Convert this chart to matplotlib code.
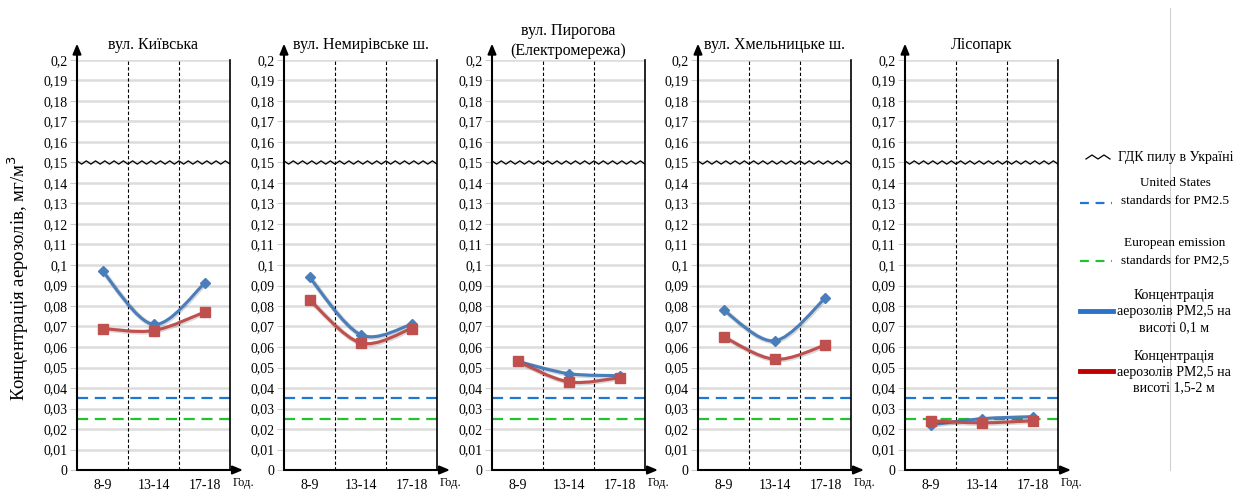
import numpy as np
import matplotlib.pyplot as plt
from matplotlib.path import Path
from matplotlib.patches import PathPatch
from matplotlib.lines import Line2D
import matplotlib.patheffects as pe

plt.rcParams['font.family'] = ['Liberation Serif', 'DejaVu Serif']

# Measurement sites and time slots
sites = ['вул. Київська', 'вул. Немирівське ш.', 'вул. Пирогова\n(Електромережа)',
         'вул. Хмельницьке ш.', 'Лісопарк']
hours = ['8-9', '13-14', '17-18']

# PM2.5 concentration, mg/m3, at 0.1 m and at 1.5-2 m height
low_height = [
    [0.097, 0.071, 0.091],
    [0.094, 0.066, 0.071],
    [0.053, 0.047, 0.046],
    [0.078, 0.063, 0.084],
    [0.022, 0.025, 0.026],
]
high_height = [
    [0.069, 0.068, 0.077],
    [0.083, 0.062, 0.069],
    [0.053, 0.043, 0.045],
    [0.065, 0.054, 0.061],
    [0.024, 0.023, 0.024],
]

# Reference limits
ukraine_limit = 0.15
us_standard = 0.035
eu_standard = 0.025

yticks = np.round(np.arange(0, 0.201, 0.01), 2)

W, H = 1236, 490
fig = plt.figure(figsize=(W / 100, H / 100), dpi=100)

panel_left = [77, 284, 492, 698, 905]
panel_w = 153
top_px, bot_px = 60, 470


def smooth_path(xs, ys):
    # Bezier segments through the points (Catmull-Rom style control points)
    pts = np.column_stack([xs, ys])
    ext = np.vstack([pts[0], pts, pts[-1]])
    verts = [pts[0]]
    codes = [Path.MOVETO]
    for i in range(len(pts) - 1):
        p0, p1, p2, p3 = ext[i], ext[i + 1], ext[i + 2], ext[i + 3]
        c1 = p1 + (p2 - p0) / 6
        c2 = p2 - (p3 - p1) / 6
        verts += [c1, c2, p2]
        codes += [Path.CURVE4] * 3
    return Path(verts, codes)


def fmt(v):
    return ('%g' % v).replace('.', ',')


blue_line = '#4a7ebb'
red_line = '#c0504d'
shadow = [pe.SimpleLineShadow(offset=(0.5, -0.5), alpha=0.15, linewidth=3.5), pe.Normal()]

for k, name in enumerate(sites):
    ax = fig.add_axes([panel_left[k] / W, 1 - bot_px / H, panel_w / W, (bot_px - top_px) / H])
    x = np.arange(len(hours)) + 0.5
    ax.set_xlim(0, len(hours))
    ax.set_ylim(0, 0.2)

    for v in yticks[1:]:
        ax.axhline(v, color='#dcdcdc', lw=1.8, zorder=0)
    for b in range(1, len(hours)):
        ax.axvline(b, color='black', lw=0.8, ls=(0, (3, 2)), zorder=1)

    # zigzag Ukrainian limit
    zx = np.linspace(0, len(hours), 34)
    zy = ukraine_limit + np.where(np.arange(34) % 2 == 0, 0.0008, -0.0008)
    ax.plot(zx, zy, color='black', lw=0.9, zorder=2)

    ax.axhline(us_standard, color='#1f77d0', lw=1.6, ls=(0, (5, 3)), zorder=2)
    ax.axhline(eu_standard, color='#22c32e', lw=1.6, ls=(0, (5, 3)), zorder=2)

    for vals, col, mk, ms in [(low_height[k], blue_line, 'D', 5),
                              (high_height[k], red_line, 's', 7)]:
        patch = PathPatch(smooth_path(x, vals), fill=False, edgecolor=col, lw=2.2,
                          zorder=3, path_effects=shadow)
        ax.add_patch(patch)
        ax.plot(x, vals, ls='none', marker=mk, ms=ms, color=col,
                markeredgecolor=col, zorder=4)

    ax.set_yticks(yticks)
    ax.set_yticklabels([fmt(v) for v in yticks], fontsize=10)
    ax.set_xticks(x)
    ax.set_xticklabels(hours, fontsize=10)
    ax.tick_params(axis='y', length=5, color='#cccccc', pad=2)
    ax.tick_params(axis='x', length=0, pad=6.5)

    for s in ['top', 'left', 'bottom']:
        ax.spines[s].set_visible(False)
    ax.spines['right'].set_color('black')
    ax.spines['right'].set_linewidth(1.2)

    ax.annotate('', xy=(0, 1.04), xytext=(0, 0), xycoords='axes fraction',
                arrowprops=dict(arrowstyle='-|>,head_length=0.6,head_width=0.25',
                                color='black', lw=1.5, shrinkA=0, shrinkB=0))
    ax.annotate('', xy=(1.085, 0), xytext=(0, 0), xycoords='axes fraction',
                arrowprops=dict(arrowstyle='-|>,head_length=0.6,head_width=0.25',
                                color='black', lw=1.5, shrinkA=0, shrinkB=0))
    ax.text(1.015, -0.018, 'Год.', transform=ax.transAxes, fontsize=9,
            ha='left', va='top')

    if '\n' in name:
        ax.text(0.5, 1.003, name, transform=ax.transAxes, fontsize=11.5,
                ha='center', va='bottom', linespacing=1.35)
    else:
        ax.text(0.5, 1.018, name, transform=ax.transAxes, fontsize=11.5,
                ha='center', va='bottom')

fig.text(18 / W, 1 - 278 / H, 'Концентрація аерозолів, мг/м$^3$', rotation=90,
         ha='center', va='center', fontsize=13.5)

# thin grey separator
fig.add_artist(Line2D([1170 / W] * 2, [1 - 470 / H, 1 - 8 / H], color='#d0d0d0', lw=0.8))

# legend
def fx(p):
    return p / W


def fy(p):
    return 1 - p / H


zlx = np.linspace(1086, 1110, 5)
zly = 157 + np.array([2, -2, 2, -2, 2])
fig.add_artist(Line2D(fx(zlx), fy(zly), color='black', lw=0.9))
fig.text(fx(1118), fy(157), 'ГДК пилу в Україні', fontsize=10, ha='left', va='center')

fig.add_artist(Line2D([fx(1080), fx(1112)], [fy(203)] * 2, color='#1f77d0', lw=1.6,
                      ls=(0, (4, 3))))
fig.text(fx(1175), fy(192), 'United States\nstandards for PM2.5', fontsize=9.5,
         ha='center', va='center', linespacing=1.6)

fig.add_artist(Line2D([fx(1080), fx(1112)], [fy(261)] * 2, color='#22c32e', lw=1.6,
                      ls=(0, (4, 3))))
fig.text(fx(1175), fy(252), 'European emission\nstandards for PM2,5', fontsize=9.5,
         ha='center', va='center', linespacing=1.6)

fig.add_artist(Line2D([fx(1080), fx(1113)], [fy(311)] * 2, color='#2c72c7', lw=3.5))
fig.text(fx(1174), fy(312), 'Концентрація\nаерозолів PM2,5 на\nвисоті 0,1 м', fontsize=10,
         ha='center', va='center', linespacing=1.3)

fig.add_artist(Line2D([fx(1080), fx(1113)], [fy(371)] * 2, color='#c00000', lw=3.5))
fig.text(fx(1174), fy(372), 'Концентрація\nаерозолів PM2,5 на\nвисоті 1,5-2 м', fontsize=10,
         ha='center', va='center', linespacing=1.3)

fig.savefig('out.png', dpi=100)
